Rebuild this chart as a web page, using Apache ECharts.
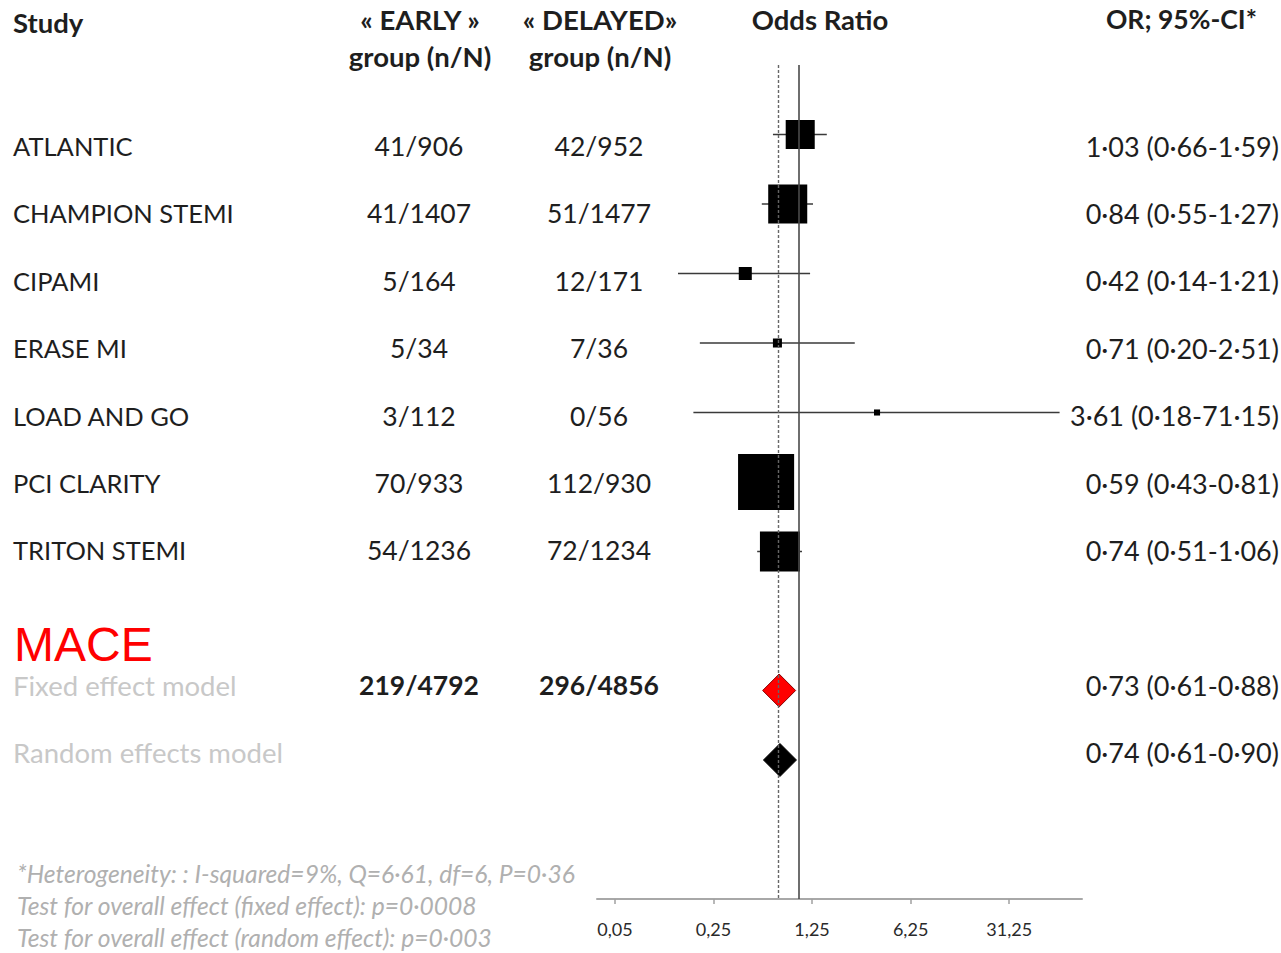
<!DOCTYPE html>
<html><head><meta charset="utf-8">
<script src="https://cdn.jsdelivr.net/npm/echarts@6/dist/echarts.min.js"></script>
<style>html,body{margin:0;padding:0;background:#fff}#c{width:1281px;height:953px}</style>
</head><body><div id="c"></div>
<script>
const studies = ['ATLANTIC','CHAMPION STEMI','CIPAMI','ERASE MI','LOAD AND GO','PCI CLARITY','TRITON STEMI'];
const earlyGroup = ['41/906','41/1407','5/164','5/34','3/112','70/933','54/1236'];
const delayedGroup = ['42/952','51/1477','12/171','7/36','0/56','112/930','72/1234'];
const oddsRatio = [1.03,0.84,0.42,0.71,3.61,0.59,0.74];
const ciLow = [0.66,0.55,0.14,0.20,0.18,0.43,0.51];
const ciHigh = [1.59,1.27,1.21,2.51,71.15,0.81,1.06];
const weights = [11.4,20.6,2.3,1.1,0.5,42.5,21.7];
const models = ['Fixed effect model','Random effects model'];
const modelEarly = ['219/4792',''];
const modelDelayed = ['296/4856',''];
const modelOR = [0.73,0.74];
const modelLow = [0.61,0.61];
const modelHigh = [0.88,0.90];
const tickValues = [0.05,0.25,1.25,6.25,31.25];
const tickLabels = ['0,05','0,25','1,25','6,25','31,25'];
const axisRange = [0.0373, 102.6];
const nullEffect = 1;
const footnotes = [
  '*Heterogeneity: : I-squared=9%, Q=6·61, df=6, P=0·36',
  'Test for overall effect (fixed effect): p=0·0008',
  'Test for overall effect (random effect): p=0·003'
];
const outcome = 'MACE';

const log5 = v => Math.log(v) / Math.log(5);
const fmt = v => v.toFixed(2).replace('.', '·');
const orText = (o, l, h) => fmt(o) + ' (' + fmt(l) + '-' + fmt(h) + ')';

const FONT = 'Lato, "Open Sans", sans-serif';
const chart = echarts.init(document.getElementById('c'), null, {renderer: 'svg'});

const studyData = studies.map((s, i) => [log5(oddsRatio[i]), i, log5(ciLow[i]), log5(ciHigh[i]), weights[i]]);
const modelRows = [8, 9];

const graphics = [];
function txt(text, x, y, opt) {
  opt = opt || {};
  graphics.push({
    type: 'text', x: x, y: y, silent: true,
    style: {
      text: text,
      font: (opt.italic ? 'italic ' : '') + (opt.bold ? 'bold ' : '') + (opt.size || 26) + 'px ' + (opt.family || FONT),
      fill: opt.color || '#1e1e1e',
      align: opt.align || 'left', textAlign: opt.align || 'left',
      verticalAlign: 'middle', textVerticalAlign: 'middle'
    }
  });
}
// headers
const H = 27.5;
txt('Study', 13, 22, {bold: true, size: H});
txt('« EARLY »', 420, 19, {bold: true, align: 'center', size: H});
txt('group (n/N)', 420, 56, {bold: true, align: 'center', size: H});
txt('« DELAYED»', 600, 19, {bold: true, align: 'center', size: H});
txt('group (n/N)', 600, 56, {bold: true, align: 'center', size: H});
txt('Odds Ratio', 820, 19, {bold: true, align: 'center', size: H});
txt('OR; 95%-CI*', 1257, 19, {bold: true, align: 'right', size: 26.5});

const rowTop = 146, rowStep = 67.4;
studies.forEach((s, i) => {
  const y = rowTop + i * rowStep;
  txt(s, 13, y, {size: 25.5});
  txt(earlyGroup[i], 419, y, {align: 'center', size: 26.5});
  txt(delayedGroup[i], 599, y, {align: 'center', size: 26.5});
  txt(orText(oddsRatio[i], ciLow[i], ciHigh[i]), 1279, y, {align: 'right', size: 27});
});
txt(outcome, 14, 644, {size: 48, family: '"Liberation Sans", Arial, sans-serif', color: '#ff0000'});
models.forEach((m, j) => {
  const y = rowTop + modelRows[j] * rowStep;
  txt(m, 13, y, {color: '#c8c8c8', size: 27.5});
  txt(modelEarly[j], 419, y, {align: 'center', bold: true, size: 26.5});
  txt(modelDelayed[j], 599, y, {align: 'center', bold: true, size: 26.5});
  txt(orText(modelOR[j], modelLow[j], modelHigh[j]), 1279, y, {align: 'right', size: 27});
});
footnotes.forEach((f, k) => txt(f, 17, 873 + k * 32, {italic: true, size: 24.6, color: '#b0b0b0'}));

chart.setOption({
  animation: false,
  backgroundColor: '#fff',
  grid: {left: 597, right: 199, top: 65, bottom: 54},
  xAxis: {
    type: 'value', min: log5(axisRange[0]), max: log5(axisRange[1]),
    splitLine: {show: false},
    axisLine: {onZero: false, lineStyle: {color: '#a8a8a8', width: 2}},
    axisTick: {show: true, customValues: tickValues.map(log5), length: 5, lineStyle: {color: '#a0a0a0', width: 1.5}},
    axisLabel: {
      customValues: tickValues.map(log5), margin: 21,
      fontFamily: FONT, fontSize: 18, color: '#2a2a2a',
      formatter: v => {
        let best = 0;
        tickValues.forEach((t, i) => { if (Math.abs(log5(t) - v) < Math.abs(log5(tickValues[best]) - v)) best = i; });
        return tickLabels[best];
      }
    }
  },
  yAxis: {type: 'value', min: -1, max: 11, inverse: true, show: false},
  series: [
    {
      type: 'line', data: [], silent: true,
      markLine: {
        silent: true, symbol: 'none', label: {show: false},
        data: [
          {xAxis: log5(nullEffect), lineStyle: {color: '#4a4a4a', width: 1.6, type: 'solid'}},
          {xAxis: log5(modelOR[0]), lineStyle: {color: '#666', width: 1.4, type: [3, 2]}}
        ]
      }
    },
    {
      type: 'custom', data: studyData, encode: {x: 0, y: 1},
      renderItem: (params, api) => {
        const y = api.value(1);
        const lo = api.coord([api.value(2), y]);
        const hi = api.coord([api.value(3), y]);
        const c = api.coord([api.value(0), y]);
        const s = Math.sqrt(api.value(4)) * 8.6;
        return {type: 'group', children: [
          {type: 'line', shape: {x1: lo[0], y1: lo[1], x2: hi[0], y2: hi[1]}, style: {stroke: '#3a3a3a', lineWidth: 1.5}},
          {type: 'rect', shape: {x: c[0] - s / 2, y: c[1] - s / 2, width: s, height: s}, style: {fill: '#000'}}
        ]};
      }
    },
    {
      type: 'scatter', symbol: 'diamond', symbolSize: 33,
      data: [
        {value: [log5(modelOR[0]), modelRows[0]], itemStyle: {color: '#ff0000', borderColor: '#8a0000', borderWidth: 1, opacity: 1}},
        {value: [log5(modelOR[1]), modelRows[1]], itemStyle: {color: '#000', borderColor: '#000', borderWidth: 1, opacity: 1}}
      ]
    }
  ],
  graphic: graphics
});
</script></body></html>
